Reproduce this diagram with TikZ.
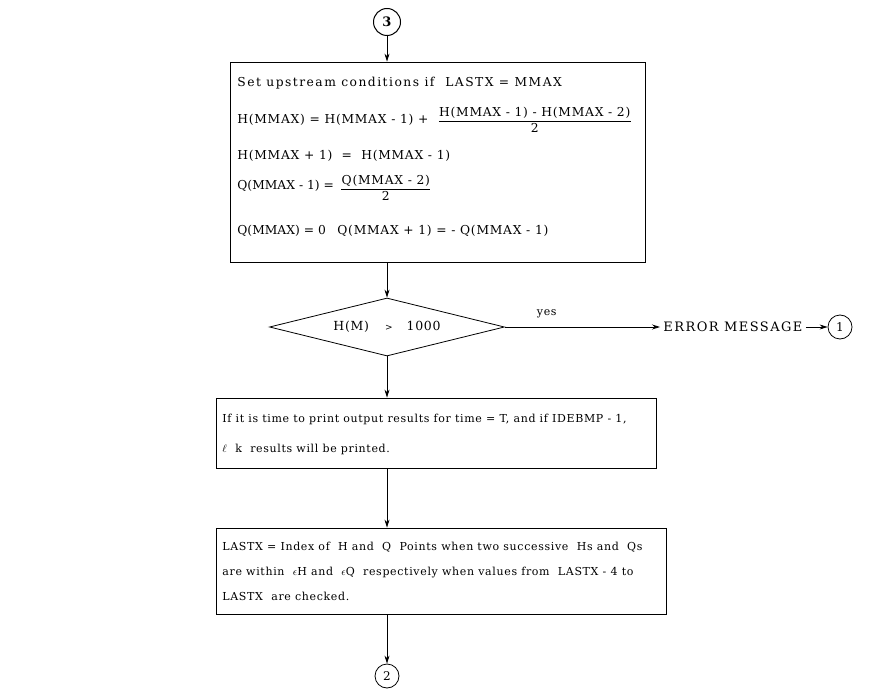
\documentclass[tikz,border=0pt]{standalone}
\usepackage{fontspec}
\usepackage{amsmath}
\setmainfont{DejaVu Serif}[LetterSpace=6]
\usetikzlibrary{arrows.meta,shapes.geometric}
\begin{document}
\begin{tikzpicture}[x=1pt,y=-1pt, line width=0.8pt,
  box/.style={draw, rectangle, inner sep=0},
  ta/.style={anchor=base west, inner sep=0, font=\fontsize{12.3}{12}\selectfont},
  tb/.style={anchor=base west, inner sep=0, font=\fontsize{11}{12}\selectfont},
  conn/.style={circle, draw, inner sep=0, font=\fontsize{12}{12}\selectfont},
  arr/.style={-{Stealth[length=8pt,width=5pt]}}]
\useasboundingbox (0,0) rectangle (896,700);
% connectors circles
\node[conn, minimum size=27pt, line width=1pt, font=\fontsize{13}{13}\selectfont\bfseries] (c3) at (387,22) {3};
\node[conn, minimum size=24pt] (c1) at (840,327) {1};
\node[conn, minimum size=24pt] (c2) at (387,676) {2};
% boxes
\node[box, minimum width=415pt, minimum height=200pt] (b1) at (437.5,162) {};
\node[diamond, draw, aspect=4, minimum width=235pt, minimum height=58pt, inner sep=0] (d) at (387,327) {};
\node[box, minimum width=440pt, minimum height=70pt] (b2) at (436,433) {};
\node[box, minimum width=450pt, minimum height=86pt] (b3) at (441,571) {};
% box 1 text
\node[ta] (l1) at (237,87) {\addfontfeature{LetterSpace=12}Set upstream conditions if\ \ LASTX = MMAX};
\node[ta] (l2) at (237,124) {H(MMAX) = H(MMAX - 1) +};
\node[ta, anchor=south west, inner ysep=2pt, inner xsep=0pt] (n2) at ([xshift=10pt]l2.east |- 0,121) {H(MMAX - 1) - H(MMAX - 2)};
\node[ta, anchor=north, inner ysep=1.5pt] (dd2) at (n2.south) {2};
\draw (n2.south west) -- (n2.south east);
\node[ta] (l3) at (237,160) {H(MMAX + 1)\ \ =\ \ H(MMAX - 1)};
\node[ta] (l4) at (237,190) {\addfontfeature{LetterSpace=0}Q(MMAX - 1) =};
\node[ta, anchor=south west, inner ysep=2pt, inner xsep=0pt] (n4) at ([xshift=7pt]l4.east |- 0,189) {Q(MMAX - 2)};
\node[ta, anchor=north, inner ysep=1.5pt] (dd4) at (n4.south) {2};
\draw (n4.south west) -- (n4.south east);
\node[ta] (l5a) at (237,235) {\addfontfeature{LetterSpace=0}Q(MMAX) = 0};
\node[ta] (l5b) at (337,235) {Q(MMAX + 1) = - Q(MMAX - 1)};
% diamond text
\node[tb, anchor=center, font=\fontsize{12.5}{12}\selectfont] (dt) at (d.center) {H(M)\hspace{16pt}{\fontsize{9}{9}\selectfont >}\hspace{14pt}1000};
\node[tb, anchor=west, inner sep=3pt, font=\fontsize{13}{12}\selectfont] (err) at (660,327) {\addfontfeature{LetterSpace=11}ERROR MESSAGE};
% box 2 text
\node[tb] (m1) at (222,422) {If it is time to print output results for time = T, and if IDEBMP - 1,};
\node[tb] (m2) at (222,452) {$\ell$\ \ k\ \ results will be printed.};
% box 3 text
\node[tb] (k1) at (222,550) {LASTX = Index of\ \ H\ and\ \ Q\ \ Points when two successive\ \ Hs and\ \ Qs};
\node[tb] (k2) at (222,575) {are within\ \ $\epsilon$H\ and\ \ $\epsilon$Q\ \ respectively when values from\ \ LASTX - 4\ to};
\node[tb] (k3) at (222,600) {LASTX\ \ are checked.};
% connectors
\draw[arr] (c3) -- (c3 |- b1.north);
\draw[arr] (d.north |- b1.south) -- (d.north);
\draw[arr] (d.east) -- node[tb, anchor=south, inner sep=0, pos=0.27, yshift=9pt] (yes) {yes} (err.west);
\draw[arr] (err.east) -- (c1.west);
\draw[arr] (d.south) -- (d.south |- b2.north);
\draw[arr] (d.south |- b2.south) -- (d.south |- b3.north);
\draw[arr] (d.south |- b3.south) -- (c2.north);
\end{tikzpicture}
\end{document}
